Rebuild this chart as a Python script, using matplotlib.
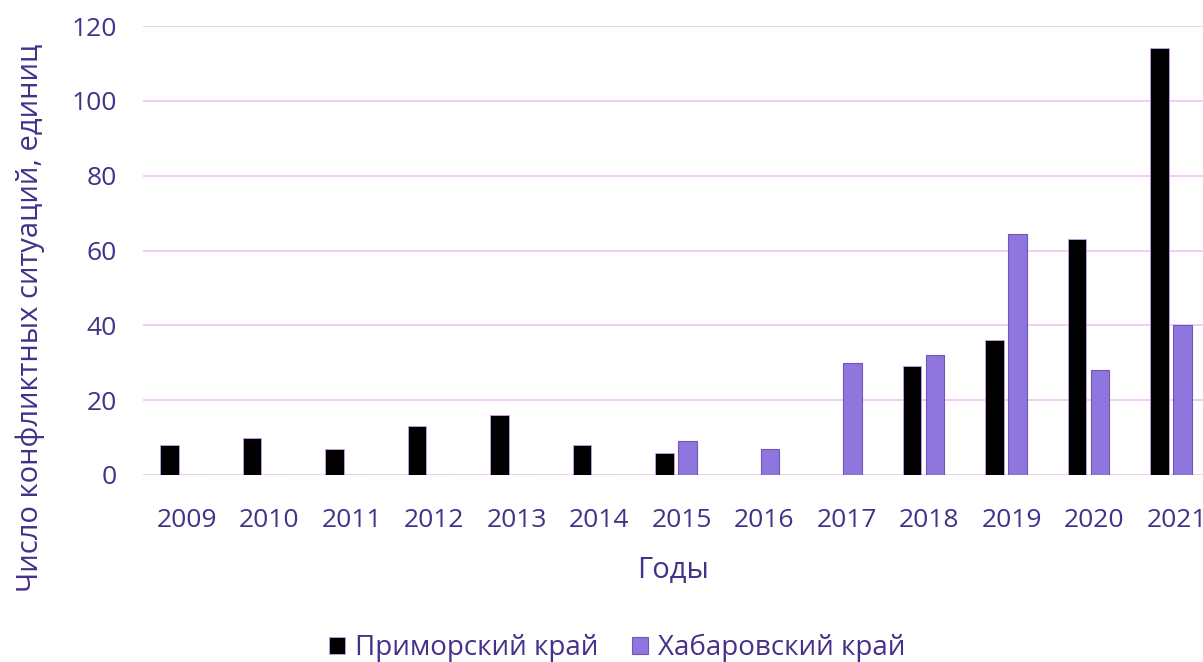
import matplotlib
matplotlib.use('Agg')
import matplotlib.pyplot as plt
import numpy as np

plt.rcParams['font.family'] = ['Open Sans', 'DejaVu Sans']

years = ['2009', '2010', '2011', '2012', '2013', '2014', '2015',
         '2016', '2017', '2018', '2019', '2020', '2021']
primorsky = [8, 10, 7, 13, 16, 8, 6, 0, 0, 29, 36, 63, 114]
khabarovsk = [0, 0, 0, 0, 0, 0, 9, 7, 30, 32, 64.5, 28, 40]

txt = '#45308a'
grid_c = '#f0c4f4'
purple = '#8f76de'

fig = plt.figure(figsize=(12.03, 6.62), dpi=100)
ax = fig.add_axes([143/1203, (662-475)/662, 1 - 143/1203, (475-26)/662])

x = np.arange(len(years))
w = 0.225
ax.bar(x - 0.21, primorsky, w, color='black', edgecolor='#c9a0ee', linewidth=0.6,
       label='Приморский край', zorder=3)
ax.bar(x + 0.07, khabarovsk, w, color=purple, edgecolor='#6d58b8', linewidth=0.8,
       label='Хабаровский край', zorder=3)

ax.set_ylim(0, 120)
ax.set_xlim(-0.53, 12.32)
ax.set_yticks(range(0, 121, 20))
ax.set_xticks(x)
ax.set_xticklabels(years)
ax.yaxis.grid(True, color=grid_c, linewidth=1.2, zorder=0)
ax.set_axisbelow(True)
for s in ax.spines.values():
    s.set_visible(False)
ax.tick_params(axis='both', length=0, colors=txt, labelsize=19)
ax.tick_params(axis='y', pad=19)
ax.tick_params(axis='x', pad=24)

ax.set_xlabel('Годы', fontsize=21, color=txt, labelpad=16)
fig.text(30/1203, 1 - 318/662, 'Число конфликтных ситуаций, единиц', rotation=90,
         ha='center', va='center', fontsize=21, color=txt)

fig.legend(loc='center', bbox_to_anchor=(617/1203, 14/662), ncol=2, frameon=False,
           fontsize=20, labelcolor=txt, handlelength=0.6, handleheight=0.6,
           handletextpad=0.35, columnspacing=1.2)

fig.savefig('out.png', dpi=100)
